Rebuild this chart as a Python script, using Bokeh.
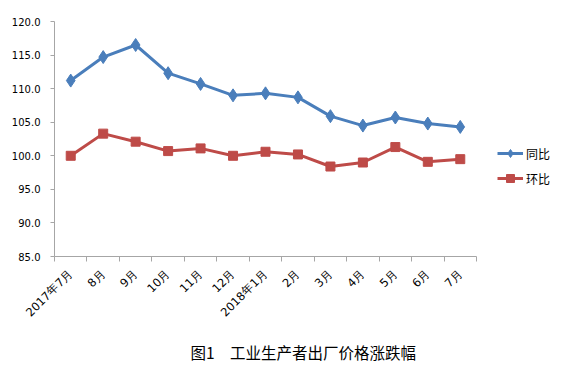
import math
from bokeh.plotting import figure
from bokeh.models import (FixedTicker, Legend, LegendItem, Title, Range1d,
                          ColumnDataSource)
from bokeh.embed import file_html
from bokeh.resources import INLINE

months = ["2017年7月", "8月", "9月", "10月", "11月", "12月", "2018年1月",
          "2月", "3月", "4月", "5月", "6月", "7月"]
yoy = [111.2, 114.7, 116.5, 112.3, 110.7, 109.0, 109.3, 108.7, 105.9, 104.5, 105.7, 104.8, 104.3]
mom = [100.0, 103.3, 102.1, 100.7, 101.1, 100.0, 100.6, 100.2, 98.4, 99.0, 101.3, 99.1, 99.5]
y_ticks = [85, 90, 95, 100, 105, 110, 115, 120]
caption = "图1\u3000工业生产者出厂价格涨跌幅"

BLUE = "#4a7ebb"
RED = "#be4b48"
CJK = "Noto Sans CJK SC"

n = len(months)
W, H = 553, 373
LEFT, TOP, BOTTOM = 54, 21, 116
plot_w = 422                       # width used by the 13 categories
frame_w = W - LEFT
x_end = n * frame_w / plot_w       # extra room on the right for the legend

xs = [i + 0.5 for i in range(n)]
src = ColumnDataSource(dict(x=xs, yoy=yoy, mom=mom))

p = figure(width=W, height=H, output_backend="svg", toolbar_location=None,
           x_range=Range1d(0, x_end), y_range=Range1d(85, 120),
           min_border_left=LEFT, min_border_top=TOP, min_border_right=0,
           min_border_bottom=BOTTOM)
p.outline_line_color = None
p.xgrid.visible = False
p.ygrid.visible = False
p.background_fill_color = "white"
p.border_fill_color = "white"

# x axis: labels at centers, tick marks at category boundaries
p.xaxis.bounds = (0, n)
p.xaxis.ticker = FixedTicker(ticks=xs, minor_ticks=list(range(n + 1)))
p.xaxis.major_label_overrides = {x: m for x, m in zip(xs, months)}
p.xaxis.major_tick_line_color = None
p.xaxis.minor_tick_in = 0
p.xaxis.minor_tick_out = 5
p.xaxis.minor_tick_line_color = "#a6a6a6"
p.xaxis.axis_line_color = "#a6a6a6"
p.xaxis.major_label_orientation = math.pi / 4
p.xaxis.major_label_text_font = "DejaVu Sans"
p.xaxis.major_label_text_font_size = "11.5px"
p.xaxis.major_label_text_color = "#000000"
p.xaxis.major_label_standoff = 9

p.yaxis.ticker = FixedTicker(ticks=y_ticks, minor_ticks=[])
p.yaxis.major_label_overrides = {t: f"{t:.1f}" for t in y_ticks}
p.yaxis.axis_line_color = "#a6a6a6"
p.yaxis.major_tick_line_color = "#a6a6a6"
p.yaxis.major_tick_in = 0
p.yaxis.major_tick_out = 4
p.yaxis.major_label_text_font = "DejaVu Sans"
p.yaxis.major_label_text_font_size = "10px"
p.yaxis.major_label_text_color = "#000000"
p.yaxis.major_label_standoff = 10

l1 = p.line("x", "yoy", source=src, line_color=BLUE, line_width=3)
s1 = p.scatter("x", "yoy", source=src, marker="diamond", size=13,
               fill_color=BLUE, line_color=BLUE)
l2 = p.line("x", "mom", source=src, line_color=RED, line_width=3)
s2 = p.scatter("x", "mom", source=src, marker="square", size=9,
               fill_color=RED, line_color=RED)

legend = Legend(items=[LegendItem(label="同比", renderers=[l1, s1]),
                       LegendItem(label="环比", renderers=[l2, s2])],
                location=(443, 68), orientation="vertical",
                glyph_width=26, glyph_height=20, label_standoff=3,
                spacing=5, padding=0, margin=0,
                border_line_color=None, background_fill_alpha=0,
                label_text_font=CJK, label_text_font_size="12px",
                label_text_color="#000000")
p.add_layout(legend, "center")

cap = Title(text=caption, align="left", offset=136, standoff=22,
            text_font=CJK, text_font_size="15.5px", text_font_style="normal",
            text_color="#000000")
p.add_layout(cap, "below")

open("out.html", "w").write(file_html(p, INLINE))
